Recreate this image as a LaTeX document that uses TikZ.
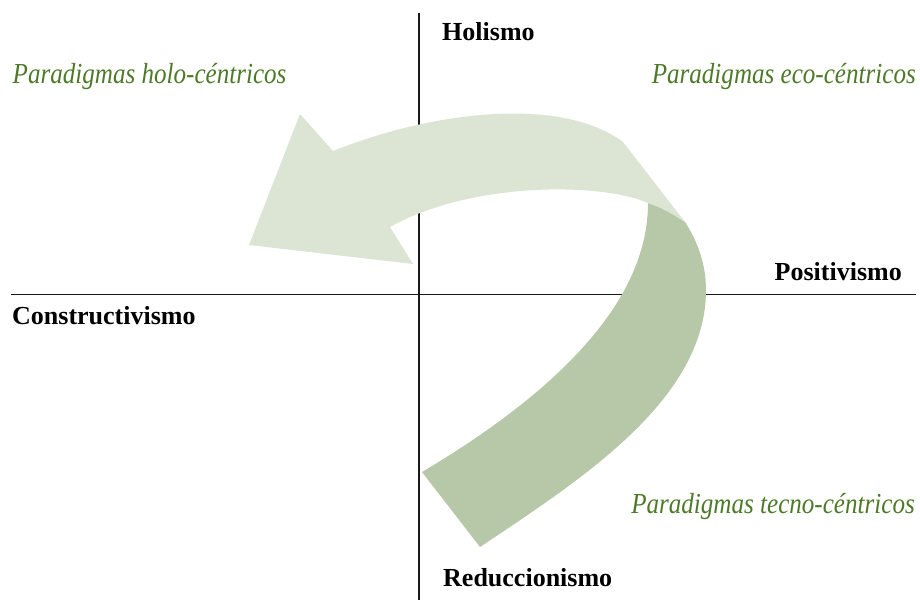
\documentclass[tikz,border=0pt]{standalone}
\usepackage{fontspec}
\setmainfont{Liberation Serif}
\newfontfamily\paritfont[FakeStretch=0.865]{Liberation Serif}
\definecolor{txtgreen}{RGB}{77,122,40}
\definecolor{lightband}{RGB}{220,228,211}
\definecolor{darkband}{RGB}{183,200,168}
\definecolor{axiscol}{RGB}{25,25,25}
\tikzset{
  axis/.style={draw=axiscol, line width=1.3pt},
  poletext/.style={inner sep=0pt, font=\fontsize{26}{30}\selectfont\bfseries, text=black},
  paratext/.style={inner sep=0pt, font=\paritfont\itshape\fontsize{29}{33}\selectfont, text=txtgreen},
}
\begin{document}
\begin{tikzpicture}[x=1pt,y=-1pt]
\useasboundingbox (0,0) rectangle (920,600);
% axes
\coordinate (vtop) at (419,12.7);
\coordinate (vbot) at (419,600);
\coordinate (hleft) at (11,294.3);
\coordinate (hright) at (916,294.3);
\draw[axis] (vtop) -- (vbot);
\draw[axis] (hleft) -- (hright);
% dark band (tail)
\fill[darkband] (648,203) .. controls (661,207) and (673,214) .. (685,222)
  .. controls (698,242) and (706,265) .. (706,290)
  .. controls (706,400) and (580,480) .. (480,547)
  -- (422,472)
  .. controls (560,390) and (648,300) .. (648,203) -- cycle;
% light band (head)
\fill[lightband] (249,245) -- (300,114) -- (333,151)
  .. controls (430,112) and (560,95) .. (623,142)
  -- (685,222)
  .. controls (673,214) and (661,207) .. (648,203)
  .. controls (600,182) and (470,182) .. (390,227)
  -- (413,264) -- cycle;
% labels
\node[poletext, anchor=base west] (hol) at (442,40.7) {Holismo};
\node[poletext, anchor=base east] (pos) at (902,280.7) {Positivismo};
\node[poletext, anchor=base west] (con) at (12,324.3) {Constructivismo};
\node[poletext, anchor=base west] (red) at (443,586) {Reduccionismo};
\node[paratext, anchor=base west] (holo) at (12.5,83.3) {Paradigmas holo-céntricos};
\node[paratext, anchor=base east] (eco) at (916,83.3) {Paradigmas eco-céntricos};
\node[paratext, anchor=base east] (tec) at (915,513) {Paradigmas tecno-céntricos};
\end{tikzpicture}
\end{document}
